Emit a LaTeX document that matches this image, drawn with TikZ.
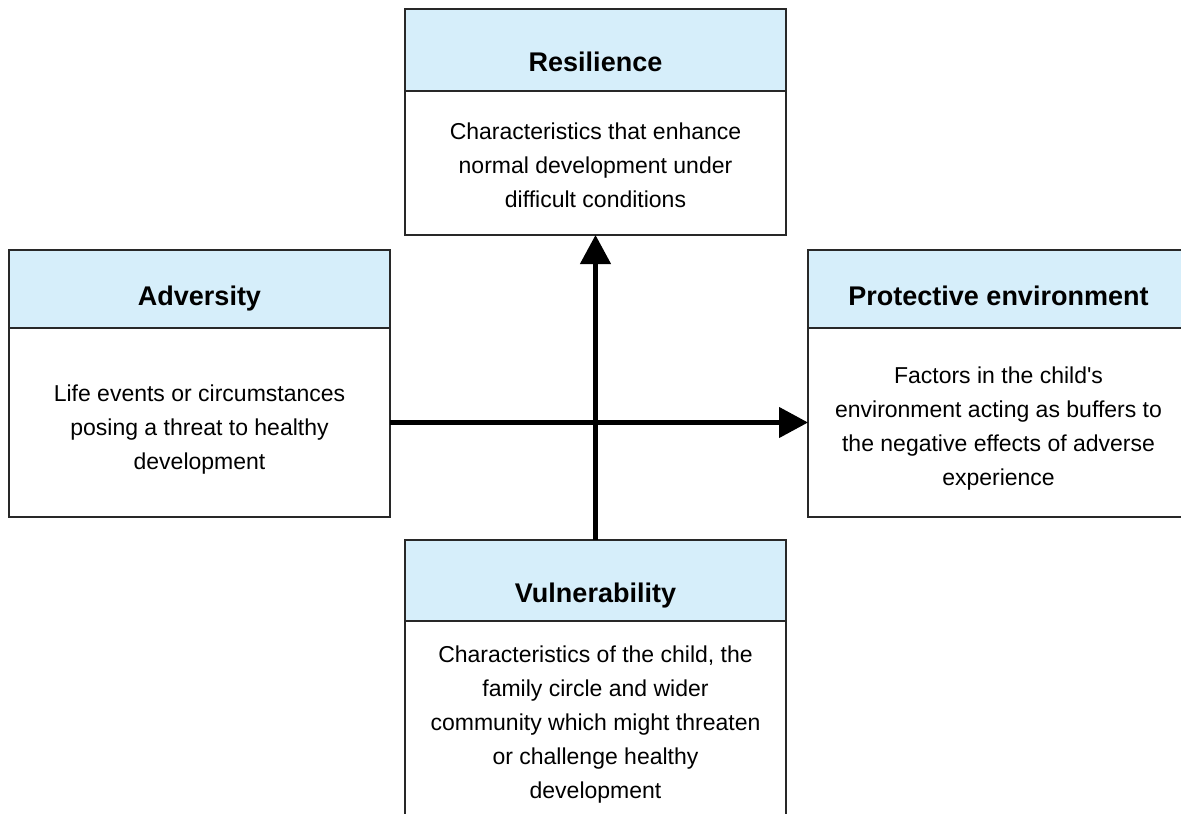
\documentclass[tikz,border=0pt]{standalone}
\usepackage{fontspec}
\setmainfont{Liberation Sans}
\usetikzlibrary{arrows.meta}
\definecolor{hdrblue}{RGB}{214,238,250}
\definecolor{edgegray}{RGB}{40,40,40}
\tikzset{
  hdr/.style={draw=edgegray, line width=1.5pt, fill=hdrblue, minimum width=381pt, inner sep=0pt, outer sep=0pt, anchor=north west},
  bdy/.style={draw=edgegray, line width=1.5pt, fill=white, minimum width=381pt, inner sep=0pt, outer sep=0pt, anchor=north west},
  ttl/.style={font=\fontsize{27}{32}\selectfont\bfseries, anchor=base, inner sep=0pt},
  txt/.style={font=\fontsize{23}{34}\selectfont, align=center, anchor=north, inner sep=0pt},
  conn/.style={line width=4.5pt, -{Triangle[length=29pt,width=30pt]}}
}
\begin{document}
\begin{tikzpicture}
\useasboundingbox (0,0) rectangle (1181pt,-814pt);
\clip (0,0) rectangle (1181pt,-814pt);
\fill[white] (0,0) rectangle (1181pt,-814pt);

% Resilience
\node[hdr, minimum height=82pt] (reshead) at (405pt,-9pt) {};
\node[bdy, minimum height=144pt] (resbody) at (405pt,-91pt) {};
\node[ttl] (restitle) at (595.5pt,-71pt) {Resilience};
\node[txt] (restext) at (595.5pt,-122.3pt) {Characteristics that enhance\\normal development under\\difficult conditions};

% Adversity
\node[hdr, minimum height=78pt] (advhead) at (9pt,-250pt) {};
\node[bdy, minimum height=189pt] (advbody) at (9pt,-328pt) {};
\node[ttl] (advtitle) at (199.5pt,-305pt) {Adversity};
\node[txt] (advtext) at (199.5pt,-385pt) {Life events or circumstances\\posing a threat to healthy\\development};

% Protective environment
\node[hdr, minimum height=78pt] (prohead) at (808pt,-250pt) {};
\node[bdy, minimum height=189pt] (probody) at (808pt,-328pt) {};
\node[ttl] (protitle) at (998.5pt,-305pt) {Protective environment};
\node[txt] (protext) at (998.5pt,-366.3pt) {Factors in the child\textquotesingle s\\environment acting as buffers to\\the negative effects of adverse\\experience};

% Vulnerability
\node[hdr, minimum height=81pt] (vulhead) at (405pt,-540pt) {};
\node[bdy, minimum height=209pt] (vulbody) at (405pt,-621pt) {};
\node[ttl] (vultitle) at (595.5pt,-602pt) {Vulnerability};
\node[txt] (vultext) at (595.5pt,-645.3pt) {Characteristics of the child, the\\family circle and wider\\community which might threaten\\or challenge healthy\\development};

% Connectors
\draw[conn] (advbody.east) -- (probody.west);
\draw[conn] (vulhead.north) -- (resbody.south);
\end{tikzpicture}
\end{document}
